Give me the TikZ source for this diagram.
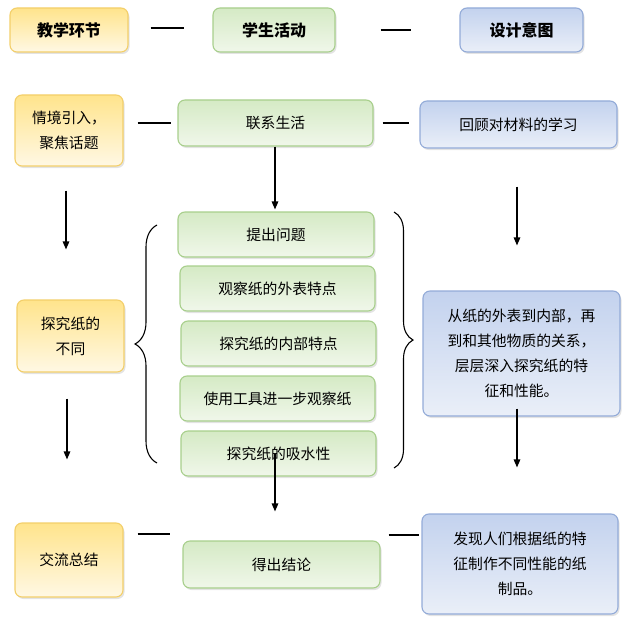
\documentclass[tikz,border=0pt]{standalone}
\usepackage{fontspec}
\newfontfamily\cjk{Noto Sans CJK SC}
\usetikzlibrary{arrows.meta,shadows,calc,decorations.pathreplacing}
\definecolor{yBd}{HTML}{F3CF6A}
\definecolor{yTop}{HTML}{FFE48C}
\definecolor{yBot}{HTML}{FFF8E4}
\definecolor{gBd}{HTML}{A8CF8C}
\definecolor{gTop}{HTML}{D5EAC5}
\definecolor{gBot}{HTML}{F0F7EA}
\definecolor{bBd}{HTML}{93ABD8}
\definecolor{bTop}{HTML}{C3D2EE}
\definecolor{bBot}{HTML}{EAEFF8}
\tikzset{
  box/.style={rounded corners=7pt, line width=1.1pt, inner sep=0pt, align=center,
    font=\cjk\fontsize{14.8}{25}\selectfont,
    drop shadow={opacity=0.22, shadow xshift=1.5pt, shadow yshift=-2pt}},
  ybox/.style={box, draw=yBd, top color=yTop, bottom color=yBot},
  gbox/.style={box, draw=gBd, top color=gTop, bottom color=gBot},
  bbox/.style={box, draw=bBd, top color=bTop, bottom color=bBot},
  head/.style={font=\cjk\bfseries\fontsize{16}{20}\selectfont},
  dashln/.style={line width=1.6pt},
  arr/.style={line width=1.3pt, -{Triangle[length=8pt,width=6.5pt]}},
  bracestyle/.style={line width=1.1pt, decorate},
}
\begin{document}
\begin{tikzpicture}[x=1pt,y=-1pt]
\useasboundingbox (0,0) rectangle (635,618);
% header
\node[ybox, head, minimum width=118pt, minimum height=44pt] (h1) at (69,30) {教学环节};
\node[gbox, head, minimum width=122pt, minimum height=44pt] (h2) at (274,30) {学生活动};
\node[bbox, head, minimum width=123pt, minimum height=44pt] (h3) at (521.5,30) {设计意图};
\draw[dashln, shorten <=22pt, shorten >=28pt] (h1.east |- 0,28) -- (h2.west |- 0,28);
\draw[dashln, shorten <=45pt, shorten >=48pt] (h2.east) -- (h3.west);
% row 2
\node[ybox, minimum width=108pt, minimum height=71pt] (a1) at (69,130.5) {情境引入，\\聚焦话题};
\node[gbox, minimum width=195pt, minimum height=46pt] (b1) at (275.5,123) {联系生活};
\node[bbox, minimum width=197pt, minimum height=47pt] (c1) at (518.5,124.5) {回顾对材料的学习};
\draw[dashln, shorten <=14pt, shorten >=6pt] (a1.east |- b1.west) -- (b1.west);
\draw[dashln, shorten <=9pt, shorten >=10pt] (b1.east) -- (b1.east -| c1.west);
% middle stack
\node[gbox, minimum width=196pt, minimum height=45pt] (b2) at (276,234.5) {提出问题};
\node[gbox, minimum width=195pt, minimum height=45pt] (b3) at (277.5,288.5) {观察纸的外表特点};
\node[gbox, minimum width=195pt, minimum height=45pt] (b4) at (278.5,343.5) {探究纸的内部特点};
\node[gbox, minimum width=195pt, minimum height=45pt] (b5) at (277.5,398.5) {使用工具进一步观察纸};
\node[gbox, minimum width=195pt, minimum height=45pt] (b6) at (278.5,453.5) {探究纸的吸水性};
\node[ybox, minimum width=107pt, minimum height=72pt] (a2) at (70.5,336) {探究纸的\\不同};
\node[bbox, minimum width=197pt, minimum height=125pt] (c2) at (521.5,353.5) {从纸的外表到内部，再\\到和其他物质的关系，\\层层深入探究纸的特\\征和性能。};
% braces
\coordinate (lb1) at (157,463);
\coordinate (lb2) at (157,225);
\coordinate (rb1) at (394,212);
\coordinate (rb2) at (394,468);
\draw[bracestyle, decoration={brace, amplitude=22pt, aspect=0.5}] (lb1) -- (lb2);
\draw[bracestyle, decoration={brace, amplitude=19pt, aspect=0.5}] (rb1) -- (rb2);
% bottom
\node[ybox, minimum width=108pt, minimum height=74pt] (a3) at (69,560) {交流总结};
\node[gbox, minimum width=197pt, minimum height=47pt] (b7) at (281.5,564.5) {得出结论};
\node[bbox, minimum width=196pt, minimum height=100pt] (c3) at (520,564) {发现人们根据纸的特\\征制作不同性能的纸\\制品。};
\draw[dashln] ($(a3.east)+(14,-26)$) -- ($(b7.west)+(-12,-30.5)$);
\draw[dashln] ($(b7.east)+(8,-29.5)$) -- ($(c3.west)+(-2,-29)$);
% arrows
\draw[arr] ($(a1.south)+(-3,24)$) -- ($(a2.north)+(-4.5,-50)$);
\draw[arr] ($(a2.south)+(-3.5,26)$) -- ($(a3.north)+(-2,-63)$);
\draw[arr] (b1.south -| 275,0) -- ($(b2.north)+(-1,-2)$);
\draw[arr] (b6.center -| 275,0) -- ($(b7.north)+(-6.5,-29)$);
\draw[arr] ($(c1.south)+(-1.5,38)$) -- ($(c2.north)+(-4.5,-45)$);
\draw[arr] ($(c2.south)+(-4.5,-8)$) -- ($(c3.north)+(-3,-46)$);
\end{tikzpicture}
\end{document}
